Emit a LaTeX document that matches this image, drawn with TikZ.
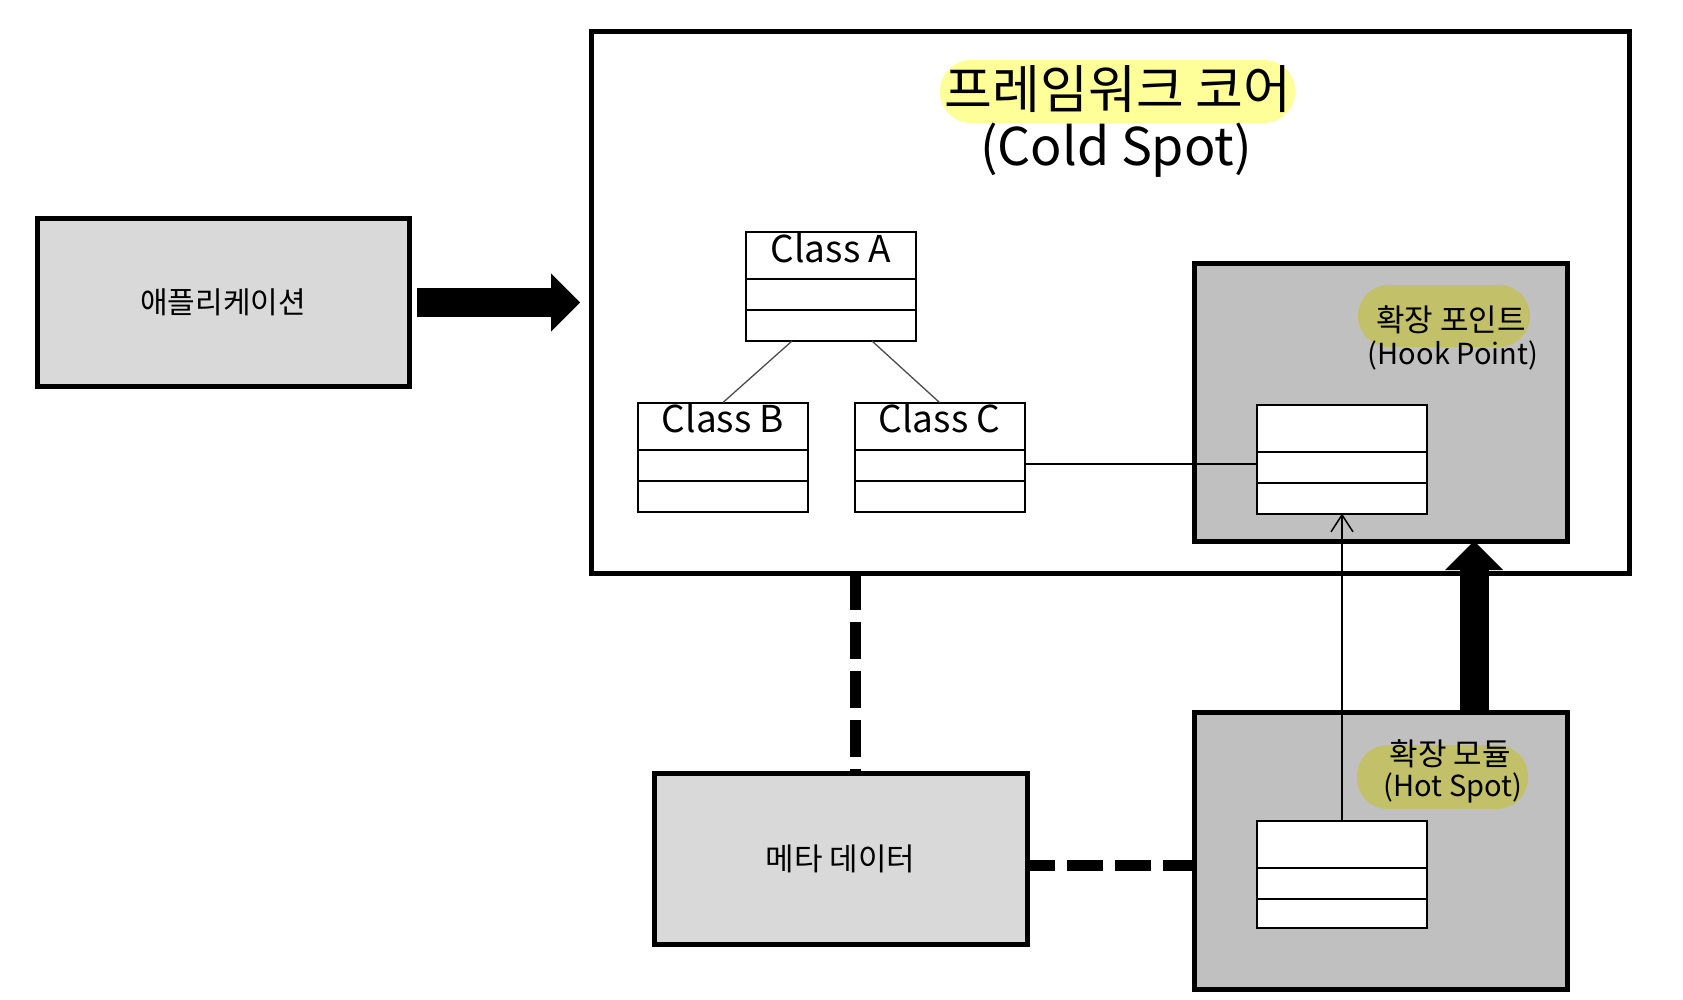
\documentclass[tikz,border=0pt]{standalone}
\usepackage{fontspec}
\setmainfont{Noto Sans CJK KR}
\usetikzlibrary{arrows.meta,calc}
\definecolor{boxlight}{HTML}{D9D9D9}
\definecolor{boxdark}{HTML}{C0C0C0}
\definecolor{hlyellow}{HTML}{FFFF99}
\definecolor{hlolive}{RGB}{195,192,106}
\begin{document}
\begin{tikzpicture}[x=1pt,y=-1pt,
  bigbox/.style={draw, line width=5pt, inner sep=0pt, outer sep=0pt},
  clsbox/.style={draw, line width=2pt, fill=white, minimum width=170pt, minimum height=109pt, inner sep=0pt, outer sep=0pt},
  divline/.style={line width=2pt},
  clsname/.style={anchor=base, inner sep=0pt, font=\fontsize{37}{44}\selectfont},
  hlbox/.style={inner sep=0pt, outer sep=0pt},
  lbl/.style={inner sep=0pt, font=\fontsize{31}{36}\selectfont},
  lbllat/.style={inner sep=0pt, font=\fontsize{29}{35}\selectfont},
  thinline/.style={line width=1.3pt, draw=black!70},
  bigarrow/.style={line width=29pt, -{Triangle[length=29pt,width=58pt,line width=0pt]}},
  dashv/.style={line width=11pt, dash pattern=on 37pt off 12pt},
  dashh/.style={line width=11pt, dash pattern=on 36pt off 12pt, dash phase=8pt}
]
\useasboundingbox (0,0) rectangle (1683,1000);

% framework core
\node[bigbox, fill=white, minimum width=1038pt, minimum height=541pt] (fw) at (1110,302.5) {};
\node[hlbox, fill=hlyellow, rounded corners=31pt, minimum width=355pt, minimum height=63pt] (hl1) at (1117.5,91.5) {};
\node[inner sep=0pt, font=\fontsize{52}{60}\selectfont] (title) at (1118,89) {프레임워크 코어};
\node[inner sep=0pt, font=\fontsize{52}{60}\selectfont] (cold) at (1116,150) {(Cold Spot)};

% application
\node[bigbox, fill=boxlight, minimum width=372pt, minimum height=167pt, font=\fontsize{30}{36}\selectfont] (app) at (223,302.5) {애플리케이션};

% meta data
\node[bigbox, fill=boxlight, minimum width=373pt, minimum height=171pt, font=\fontsize{31}{36}\selectfont] (meta) at (840.5,859) {메타 데이터};

% hook point box
\node[bigbox, fill=boxdark, minimum width=373pt, minimum height=277pt] (hook) at (1380.5,402.5) {};
\node[hlbox, fill=hlolive, rounded corners=31pt, minimum width=172pt, minimum height=62pt] (hl2) at (1444,316) {};
\node[lbl] (hookk) at (1451,320) {확장 포인트};
\node[lbllat] (hookl) at (1453,355) {(Hook Point)};

% hot spot box
\node[bigbox, fill=boxdark, minimum width=373pt, minimum height=277pt] (hot) at (1380.5,850.5) {};
\node[hlbox, fill=hlolive, rounded corners=31pt, minimum width=171pt, minimum height=64pt] (hl3) at (1442.5,777) {};
\node[lbl] (hotk) at (1450,754) {확장 모듈};
\node[lbllat] (hotl) at (1453,788) {(Hot Spot)};

% classes
\node[clsbox] (A) at (831,286.5) {};
\node[clsbox] (B) at (723,457) {};
\node[clsbox] (C) at (939.5,457) {};
\node[clsbox] (hi) at (1342,459) {};
\node[clsbox, minimum height=107pt] (ho) at (1342,874.5) {};
\foreach \c in {A,B,C,hi,ho}{
  \draw[divline] ([yshift=-47pt]\c.north west) -- ([yshift=-47pt]\c.north east);
  \draw[divline] ([yshift=-78pt]\c.north west) -- ([yshift=-78pt]\c.north east);
}
\node[clsname] (tA) at ([yshift=-30pt]A.north) {Class A};
\node[clsname] (tB) at ([yshift=-30pt]B.north) {Class B};
\node[clsname] (tC) at ([yshift=-30pt]C.north) {Class C};

% class connectors
\draw[thinline] ([xshift=-39pt]A.south) -- (B.north);
\draw[thinline] ([xshift=41pt]A.south) -- (C.north);
\draw[line width=1.5pt] ([yshift=-7pt]C.east) -- ([yshift=-7pt]C.east -| hi.west);
\draw[line width=1.5pt, -{Straight Barb[length=17pt,width=22pt]}] (ho.north) -- (hi.south);

% big arrows
\draw[bigarrow] ([xshift=8pt]app.east) -- ([xshift=-11pt]fw.west);
\draw[bigarrow] ([xshift=93.5pt]hot.north) -- ([xshift=93.5pt]hook.south);

% dashed links
\coordinate (dvbot) at ([xshift=14.5pt]meta.north);
\draw[dashv] (dvbot |- fw.south) -- (dvbot);
\draw[dashh] ([yshift=-6.5pt]meta.east) -- ([yshift=-6.5pt]meta.east -| hot.west);
\end{tikzpicture}
\end{document}
